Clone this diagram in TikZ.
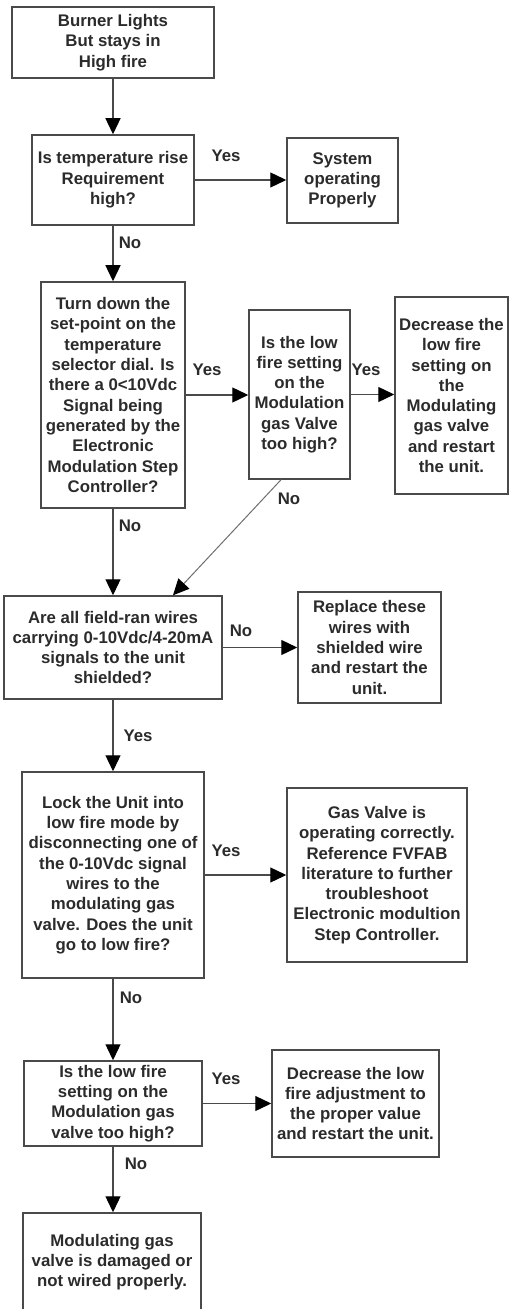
\documentclass[tikz,border=0pt]{standalone}
\usepackage{fontspec}
\setmainfont{Liberation Sans}
\usepackage{xcolor}
\usepackage{tikz}
\usetikzlibrary{
    arrows.meta,
    positioning,
    calc
}
\definecolor{linegray}{HTML}{4A4A4A}
\definecolor{txtgray}{HTML}{2B2B2B}
\tikzstyle{flowarrow} = [-{Triangle[length=8pt,width=7.5pt,color=black]}, line width=0.65pt, draw=linegray]
\tikzstyle{stepbox} = [draw=linegray, line width=0.75pt, align=center, inner sep=0pt, text=txtgray, font=\fontsize{8.4}{10.15}\selectfont\bfseries]
\tikzstyle{lbl} = [inner sep=0pt, text=txtgray, font=\fontsize{8.4}{10.15}\selectfont\bfseries]

\begin{document}
\begin{tikzpicture}[x=0.5pt,y=-0.5pt]
    \useasboundingbox (0,0) rectangle (509,1309);
    % boxes
    \node[stepbox, minimum width=101pt, minimum height=35.5pt] (start) at (113,42.5) {Burner Lights\\But stays in\\High fire};
    \node[stepbox, minimum width=81pt, minimum height=45pt] (rise) at (113,180) {Is temperature rise\\Requirement\\high?};
    \node[stepbox, minimum width=55.5pt, minimum height=42.5pt] (okay) at (342.5,180.5) {System\\operating\\Properly};
    \node[stepbox, minimum width=72pt, minimum height=113pt] (dial) at (113,395) {Turn down the\\set-point on the\\temperature\\selector dial. Is\\there a 0<10Vdc\\Signal being\\generated by the\\Electronic\\Modulation Step\\Controller?};
    \node[stepbox, minimum width=50.5pt, minimum height=84.5pt] (lowset) at (299.5,394.5) {Is the low\\fire setting\\on the\\Modulation\\gas Valve\\too high?};
    \node[stepbox, minimum width=56.5pt, minimum height=98.5pt] (decset) at (451.5,395.5) {Decrease the\\low fire\\setting on\\the\\Modulating\\gas valve\\and restart\\the unit.};
    \node[stepbox, minimum width=109pt, minimum height=51.5pt] (wires) at (113,647.5) {Are all field-ran wires\\carrying 0-10Vdc/4-20mA\\signals to the unit\\shielded?};
    \node[stepbox, minimum width=71.5pt, minimum height=55.5pt] (shield) at (369.5,647.5) {Replace these\\wires with\\shielded wire\\and restart the\\unit.};
    \node[stepbox, minimum width=91pt, minimum height=103pt] (lock) at (113,875) {Lock the Unit into\\low fire mode by\\disconnecting one of\\the 0-10Vdc signal\\wires to the\\modulating gas\\valve.  Does the unit\\go to low fire?};
    \node[stepbox, minimum width=90pt, minimum height=87pt] (valveok) at (377,875) {Gas Valve is\\operating correctly.\\Reference FVFAB\\literature to further\\troubleshoot\\Electronic modultion\\Step Controller.};
    \node[stepbox, minimum width=89pt, minimum height=42.5pt] (lowhigh) at (113,1103.5) {Is the low fire\\setting on the\\Modulation gas\\valve too high?};
    \node[stepbox, minimum width=83.5pt, minimum height=53.5pt] (adjust) at (355.5,1103.5) {Decrease the low\\fire adjustment to\\the proper value\\and restart the unit.};
    \node[stepbox, minimum width=89pt, minimum height=49pt] (damaged) at (112,1262) {Modulating gas\\valve is damaged or\\not wired properly.};
    % connectors
    \draw[flowarrow] (start.south) -- (rise.north);
    \draw[flowarrow] (rise.east) -- (rise.east -| okay.west);
    \draw[flowarrow] (rise.south) -- (dial.north);
    \draw[flowarrow] (dial.east) -- (dial.east -| lowset.west);
    \draw[flowarrow] (lowset.east) -- (lowset.east -| decset.west);
    \draw[flowarrow, line width=0.5pt, draw=linegray!80] ([xshift=-9.25pt]lowset.south) -- ([xshift=30pt]wires.north);
    \draw[flowarrow] (dial.south) -- (wires.north);
    \draw[flowarrow] (wires.east) -- (wires.east -| shield.west);
    \draw[flowarrow] (wires.south) -- (lock.north);
    \draw[flowarrow] (lock.east) -- (lock.east -| valveok.west);
    \draw[flowarrow] (lock.south) -- (lowhigh.north);
    \draw[flowarrow] (lowhigh.east) -- (lowhigh.east -| adjust.west);
    \draw[flowarrow] (lowhigh.south) -- (lowhigh.south |- damaged.north);
    % labels
    \node[lbl] (yes1) at (226,156) {Yes};
    \node[lbl] (no1) at (130,243) {No};
    \node[lbl] (yes2) at (207,370) {Yes};
    \node[lbl] (yes3) at (366,370) {Yes};
    \node[lbl] (no2) at (289,499) {No};
    \node[lbl] (no3) at (130,526) {No};
    \node[lbl] (no4) at (241,631) {No};
    \node[lbl] (yes4) at (138,736) {Yes};
    \node[lbl] (yes5) at (226,851) {Yes};
    \node[lbl] (no5) at (131,998) {No};
    \node[lbl] (yes6) at (226,1079) {Yes};
    \node[lbl] (no6) at (136,1164) {No};
\end{tikzpicture}
\end{document}
